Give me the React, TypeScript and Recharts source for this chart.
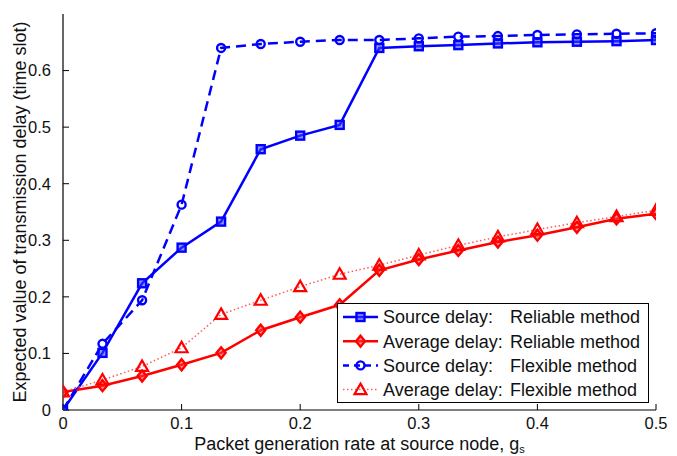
import React from 'react';
import { LineChart, Line, XAxis, YAxis, Legend } from 'recharts';

const xValues = [0, 0.0333, 0.0667, 0.1, 0.1333, 0.1667, 0.2, 0.2333, 0.2667, 0.3, 0.3333, 0.3667, 0.4, 0.4333, 0.4667, 0.5];
const sourceReliable = [0, 0.101, 0.224, 0.287, 0.333, 0.461, 0.485, 0.504, 0.640, 0.643, 0.645, 0.648, 0.650, 0.651, 0.652, 0.654];
const averageReliable = [0.032, 0.043, 0.060, 0.080, 0.101, 0.141, 0.164, 0.186, 0.247, 0.266, 0.282, 0.297, 0.309, 0.323, 0.338, 0.347];
const sourceFlexible = [0, 0.117, 0.194, 0.363, 0.640, 0.647, 0.651, 0.654, 0.654, 0.657, 0.660, 0.661, 0.663, 0.664, 0.665, 0.666];
const averageFlexible = [0.032, 0.053, 0.077, 0.110, 0.169, 0.194, 0.218, 0.240, 0.256, 0.274, 0.291, 0.306, 0.319, 0.331, 0.342, 0.353];

const xTicks = [0, 0.1, 0.2, 0.3, 0.4, 0.5];
const yTicks = [0, 0.1, 0.2, 0.3, 0.4, 0.5, 0.6];
const legendNames = ['Source delay:', 'Average delay:', 'Source delay:', 'Average delay:'];
const legendMethods = ['Reliable method', 'Reliable method', 'Flexible method', 'Flexible method'];
const xLabel = 'Packet generation rate at source node, g';
const xLabelSub = 's';
const yLabel = 'Expected value of transmission delay (time slot)';

const data = xValues.map((x, i) => ({
  x,
  sr: sourceReliable[i],
  ar: averageReliable[i],
  sf: sourceFlexible[i],
  af: averageFlexible[i],
}));

const FONT = '"Liberation Sans", Arial, Helvetica, sans-serif';
const BLUE = '#0000FF';
const RED = '#FF0000';

const squareShape = (cx: number, cy: number, key?: any) => (
  <rect key={key} x={cx - 4} y={cy - 4} width={8} height={8} fill="rgba(60,60,255,0.55)" stroke={BLUE} strokeWidth={2.4} />
);
const diamondShape = (cx: number, cy: number, key?: any) => (
  <path key={key} d={`M${cx},${cy - 5.5}L${cx + 4.5},${cy}L${cx},${cy + 5.5}L${cx - 4.5},${cy}Z`} fill="rgba(255,60,60,0.55)" stroke={RED} strokeWidth={2.4} />
);
const circleShape = (cx: number, cy: number, key?: any) => (
  <circle key={key} cx={cx} cy={cy} r={4} fill="none" stroke={BLUE} strokeWidth={2.4} />
);
const triangleShape = (cx: number, cy: number, key?: any) => (
  <path key={key} d={`M${cx},${cy - 6}L${cx + 6},${cy + 4.5}L${cx - 6},${cy + 4.5}Z`} fill="none" stroke={RED} strokeWidth={2.2} strokeLinejoin="miter" />
);

const mkDot = (fn: any) => (props: any) => {
  const { cx, cy, index } = props;
  if (cx == null || cy == null) return <g key={`d${index}`} />;
  return fn(cx, cy, `d${index}`);
};

const legendRows = [
  { stroke: BLUE, dash: undefined, width: 2.5, shape: squareShape },
  { stroke: RED, dash: undefined, width: 2.5, shape: diamondShape },
  { stroke: BLUE, dash: '6 5', width: 2.5, shape: circleShape },
  { stroke: '#ff5a5a', dash: '1.5 2.5', width: 1.5, shape: triangleShape },
];

const LegendBox = () => (
  <svg width={313} height={101} style={{ display: 'block' }}>
    <rect x={0.5} y={0.5} width={311} height={99} fill="#fff" stroke="#000" strokeWidth={1} />
    {legendRows.map((r, i) => {
      const cy = 14 + i * 24.2;
      return (
        <g key={i}>
          <line x1={6} x2={41} y1={cy} y2={cy} stroke={r.stroke} strokeWidth={r.width} strokeDasharray={r.dash} />
          {r.shape(23.5, cy)}
          <text x={46} y={cy} dy="0.36em" fontSize={18} fontFamily={FONT} fill="#111">{legendNames[i]}</text>
          <text x={173} y={cy} dy="0.36em" fontSize={18} fontFamily={FONT} fill="#111">{legendMethods[i]}</text>
        </g>
      );
    })}
  </svg>
);

const XLabelContent = (props: any) => {
  const vb = props.viewBox || {};
  const cx = vb.x + vb.width / 2;
  return (
    <text x={cx} y={450} textAnchor="middle" fontSize={18} fontFamily={FONT} fill="#111">
      {xLabel}
      <tspan fontSize={11} dy={3}>{xLabelSub}</tspan>
    </text>
  );
};

const YLabelContent = () => (
  <text x={20} y={212} transform="rotate(-90 20 212)" textAnchor="middle" dy="0.35em" fontSize={18} fontFamily={FONT} fill="#111">
    {yLabel}
  </text>
);

const tickStyle = { fontSize: 16.5, fontFamily: FONT, fill: '#111' };

export default function App() {
  return (
    <div style={{ position: 'absolute', left: 0, top: 0, width: 677, height: 456, background: '#fff' }}>
      <LineChart width={677} height={456} data={data} margin={{ top: 14, right: 21, bottom: 0, left: 0 }}>
        <XAxis
          dataKey="x"
          type="number"
          domain={[0, 0.5]}
          ticks={xTicks}
          tickFormatter={(v: number) => String(v)}
          height={46}
          axisLine={{ stroke: '#000', strokeWidth: 1.2 }}
          tickLine={{ stroke: '#000' }}
          tickSize={-6}
          tickMargin={13}
          tick={tickStyle}
          label={{ content: XLabelContent }}
          allowDataOverflow
        />
        <XAxis
          xAxisId="top"
          orientation="top"
          dataKey="x"
          type="number"
          domain={[0, 0.5]}
          ticks={xTicks}
          height={0}
          axisLine={{ stroke: '#000', strokeWidth: 1.2 }}
          tickLine={{ stroke: '#000' }}
          tickSize={-6}
          tick={false}
        />
        <YAxis
          type="number"
          domain={[0, 0.7]}
          ticks={yTicks}
          tickFormatter={(v: number) => String(v)}
          width={63}
          axisLine={{ stroke: '#000', strokeWidth: 1.2 }}
          tickLine={{ stroke: '#000' }}
          tickSize={-6}
          tickMargin={18}
          tick={tickStyle}
          label={{ content: YLabelContent }}
          allowDataOverflow
        />
        <YAxis
          yAxisId="right"
          orientation="right"
          type="number"
          domain={[0, 0.7]}
          ticks={yTicks}
          width={0}
          axisLine={{ stroke: '#000', strokeWidth: 1.2 }}
          tickLine={{ stroke: '#000' }}
          tickSize={-6}
          tick={false}
        />
        <Line dataKey="sr" stroke={BLUE} strokeWidth={2.5} dot={mkDot(squareShape)} activeDot={false} isAnimationActive={false} />
        <Line dataKey="ar" stroke={RED} strokeWidth={2.5} dot={mkDot(diamondShape)} activeDot={false} isAnimationActive={false} />
        <Line dataKey="sf" stroke={BLUE} strokeWidth={2.5} strokeDasharray="10 6" dot={mkDot(circleShape)} activeDot={false} isAnimationActive={false} />
        <Line dataKey="af" stroke="#ff5a5a" strokeWidth={1.5} strokeDasharray="1.5 2.5" dot={mkDot(triangleShape)} activeDot={false} isAnimationActive={false} />
        <Legend
          layout="horizontal"
          verticalAlign="middle"
          align="center"
          width={313}
          height={101}
          content={LegendBox}
          wrapperStyle={{ left: 337, top: 303, width: 313, height: 101 }}
        />
      </LineChart>
    </div>
  );
}
